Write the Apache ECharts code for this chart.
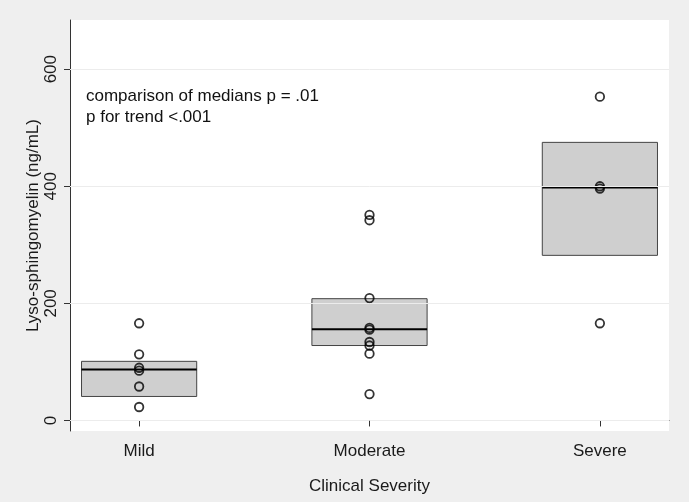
<!DOCTYPE html>
<html>
<head>
<meta charset="utf-8">
<script src="https://cdn.jsdelivr.net/npm/echarts@6/dist/echarts.min.js"></script>
<style>html,body{margin:0;padding:0;background:#efefef;}#c{width:689px;height:502px;}</style>
</head>
<body>
<div id="c"></div>
<script>
const categories = ['Mild', 'Moderate', 'Severe'];
const q1Values = [41, 128, 282];
const medianValues = [87, 156, 398];
const q3Values = [101, 208, 475];
const mildPoints = [166, 113, 90, 85, 58, 23];
const moderatePoints = [351, 342, 209, 158, 155, 134, 128, 114, 45];
const severePoints = [553, 400, 396, 166];
const yTicks = [0, 200, 400, 600];
const annotation = ['comparison of medians p = .01', 'p for trend <.001'];

const FONT = '"Liberation Sans", Arial, sans-serif';
const groups = [mildPoints, moderatePoints, severePoints];
const boxData = categories.map((c, i) => [i + 1, q1Values[i], medianValues[i], q3Values[i]]);
const pointData = [];
groups.forEach((g, i) => g.forEach(v => pointData.push([i + 1, v])));

const chart = echarts.init(document.getElementById('c'), null, {renderer: 'canvas'});
chart.setOption({
  backgroundColor: '#efefef',
  animation: false,
  grid: {left: 70, right: 20, top: 20, bottom: 71, show: true, backgroundColor: '#ffffff', borderWidth: 0},
  xAxis: {
    type: 'value', min: 0.7, max: 3.3,
    name: 'Clinical Severity', nameLocation: 'middle', nameGap: 47, nameMoveOverlap: false,
    nameTextStyle: {fontFamily: FONT, fontSize: 17, color: '#1a1a1a'},
    axisLine: {show: true, lineStyle: {color: '#333', width: 1}},
    axisTick: {show: true, length: 6, customValues: [1, 2, 3], lineStyle: {color: '#333'}},
    axisLabel: {customValues: [1, 2, 3], margin: 12, fontFamily: FONT, fontSize: 17, color: '#1a1a1a',
      formatter: v => categories[Math.round(v) - 1] || ''},
    splitLine: {show: false}
  },
  yAxis: {
    type: 'value', min: -18, max: 684,
    name: 'Lyso-sphingomyelin (ng/mL)', nameLocation: 'middle', nameGap: 28, nameRotate: 90, nameMoveOverlap: false,
    nameTextStyle: {fontFamily: FONT, fontSize: 17, color: '#1a1a1a'},
    axisLine: {show: true, lineStyle: {color: '#333', width: 1}},
    axisTick: {show: true, length: 6, customValues: yTicks, lineStyle: {color: '#333'}},
    axisLabel: {customValues: yTicks, rotate: 90, margin: 10, fontFamily: FONT, fontSize: 17, color: '#1a1a1a'},
    splitLine: {show: false}
  },
  series: [
    {
      type: 'line', data: [], z: 1, silent: true,
      markLine: {
        silent: true, symbol: 'none', label: {show: false},
        lineStyle: {color: '#ececec', width: 1, type: 'solid'},
        data: yTicks.map(v => ({yAxis: v}))
      }
    },
    {
      type: 'custom', z: 2, data: boxData,
      renderItem: function (params, api) {
        const x = api.value(0);
        const p1 = api.coord([x - 0.25, api.value(3)]);
        const p2 = api.coord([x + 0.25, api.value(1)]);
        const m1 = api.coord([x - 0.25, api.value(2)]);
        const m2 = api.coord([x + 0.25, api.value(2)]);
        return {
          type: 'group',
          children: [
            {type: 'rect', shape: {x: p1[0], y: p1[1], width: p2[0] - p1[0], height: p2[1] - p1[1]},
              style: {fill: '#cfcfcf', stroke: '#444', lineWidth: 1}},
            {type: 'line', shape: {x1: m1[0], y1: m1[1], x2: m2[0], y2: m2[1]},
              style: {stroke: '#000', lineWidth: 2}}
          ]
        };
      }
    },
    {
      type: 'scatter', z: 3, data: pointData,
      symbol: 'circle', symbolSize: 8.5,
      itemStyle: {color: 'rgba(0,0,0,0)', borderColor: '#000', borderWidth: 1.8}
    }
  ],
  graphic: [{
    type: 'text', left: 86, top: 86,
    style: {text: annotation.join('\n'), fontFamily: FONT, fontSize: 17, lineHeight: 21, fill: '#111'}
  }]
});
</script>
</body>
</html>
